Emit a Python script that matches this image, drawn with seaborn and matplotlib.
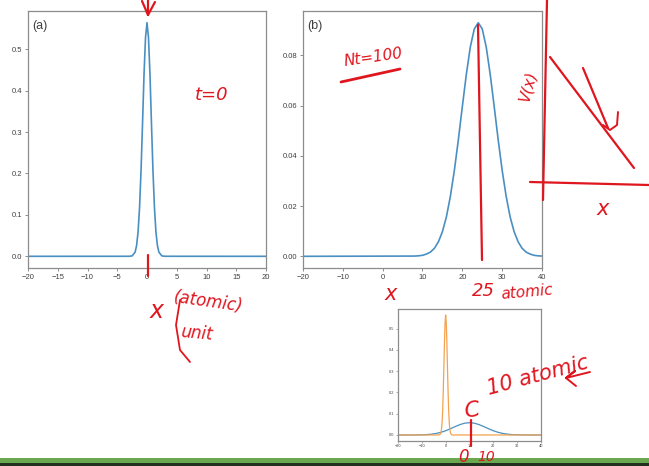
import pandas as pd
import seaborn as sns
import matplotlib.pyplot as plt
from matplotlib.lines import Line2D
from matplotlib.patches import Rectangle

# |psi(x)|^2 at t=0
x_t0 = [-20, -3, -2.5, -2, -1.75, -1.5, -1.25, -1, -0.75, -0.5, -0.25, 0,
        0.25, 0.5, 0.75, 1, 1.25, 1.5, 1.75, 2, 2.5, 3, 20]
p_t0 = [0, 0.0001, 0.001, 0.010, 0.026, 0.059, 0.118, 0.208, 0.321, 0.439, 0.528, 0.564,
        0.528, 0.439, 0.321, 0.208, 0.118, 0.059, 0.026, 0.010, 0.001, 0.0001, 0]
# same packet in the small panel, whose axis runs to 40
x_t0_wide = [-20, -3, -2.5, -2, -1.75, -1.5, -1.25, -1, -0.75, -0.5, -0.25, 0,
             0.25, 0.5, 0.75, 1, 1.25, 1.5, 1.75, 2, 2.5, 3, 40]

# after Nt=100 steps, panel (b)
x_nt100 = [-20, 8, 9, 10, 11, 12, 13, 14, 15, 16, 17, 18, 19, 20, 21, 22, 23, 24,
           25, 26, 27, 28, 29, 30, 31, 32, 33, 34, 35, 36, 37, 38, 39, 40]
p_nt100 = [0, 0.0001, 0.0002, 0.0004, 0.0009, 0.0017, 0.0032, 0.0058, 0.0098, 0.0157,
           0.0239, 0.0342, 0.0464, 0.0596, 0.0724, 0.0833, 0.0905, 0.0930,
           0.0905, 0.0833, 0.0724, 0.0596, 0.0464, 0.0342, 0.0239, 0.0157, 0.0098,
           0.0058, 0.0032, 0.0017, 0.0009, 0.0004, 0.0002, 0.0001]

# spread packet in the small inset (blue)
x_small = [-20, -18, -16, -14, -12, -10, -8, -6, -4, -2, 0, 2, 4, 6, 8, 10,
           12, 14, 16, 18, 20, 22, 24, 26, 28, 30, 32, 34, 36, 38, 40]
p_small = [0, 0, 0, 0.0001, 0.0003, 0.0008, 0.0018, 0.0038, 0.0072, 0.0126, 0.0201,
           0.0294, 0.0395, 0.0489, 0.0556, 0.0580, 0.0556, 0.0489, 0.0395, 0.0294,
           0.0201, 0.0126, 0.0072, 0.0038, 0.0018, 0.0008, 0.0003, 0.0001, 0, 0, 0]

a_xticks = [-20, -15, -10, -5, 0, 5, 10, 15, 20]
a_yticks = [0.0, 0.1, 0.2, 0.3, 0.4, 0.5]
b_xticks = [-20, -10, 0, 10, 20, 30, 40]
b_yticks = [0.00, 0.02, 0.04, 0.06, 0.08]
c_xticks = [-20, -10, 0, 10, 20, 30, 40]
c_yticks = [0.0, 0.1, 0.2, 0.3, 0.4, 0.5]

BLUE = '#4a8fc2'
ORANGE = '#f4a24e'
INK = '#e0161f'
W, H = 649, 466

sns.set_style("ticks")
plt.rcParams['font.family'] = ['Liberation Sans', 'DejaVu Sans']
plt.rcParams['axes.edgecolor'] = '#8c8c8c'
plt.rcParams['axes.linewidth'] = 0.9
plt.rcParams['xtick.color'] = '#8c8c8c'
plt.rcParams['ytick.color'] = '#8c8c8c'
plt.rcParams['xtick.labelcolor'] = '#404040'
plt.rcParams['ytick.labelcolor'] = '#404040'


def box(l, t, r, b):
    # pixel box -> figure fraction rect
    return [l / W, 1 - b / H, (r - l) / W, (b - t) / H]


def fx(px):
    return px / W


def fy(py):
    return 1 - py / H


def ink_line(fig, xs, ys, lw=1.6):
    fig.add_artist(Line2D([fx(v) for v in xs], [fy(v) for v in ys],
                          color=INK, lw=lw, solid_capstyle='round'))


def ink_text(fig, px, py, s, size=13, rot=0):
    fig.text(fx(px), fy(py), s, color=INK, fontsize=size, rotation=rot,
             family='DejaVu Sans', style='italic', ha='left', va='baseline')


def style_ticks(ax, size):
    ax.tick_params(labelsize=size, length=2.5, width=0.7, pad=1.5)


def main():
    fig = plt.figure(figsize=(6.49, 4.66), dpi=100)

    ax_a = fig.add_axes(box(28, 11, 266, 268))
    ax_b = fig.add_axes(box(303, 11, 542, 268))
    ax_c = fig.add_axes(box(398, 309, 541, 441))

    df_a = pd.DataFrame({'x': x_t0, 'p': p_t0})
    sns.lineplot(data=df_a, x='x', y='p', ax=ax_a, color=BLUE, lw=1.2)
    ax_a.set_xlim(-20, 20)
    ax_a.set_xticks(a_xticks)
    ax_a.set_yticks(a_yticks)
    ax_a.text(0.018, 0.965, '(a)', transform=ax_a.transAxes, va='top',
              fontsize=9, color='#404040')

    df_b = pd.DataFrame({'x': x_nt100, 'p': p_nt100})
    sns.lineplot(data=df_b, x='x', y='p', ax=ax_b, color=BLUE, lw=1.2)
    ax_b.set_xlim(-20, 40)
    ax_b.set_xticks(b_xticks)
    ax_b.set_yticks(b_yticks)
    ax_b.text(0.018, 0.965, '(b)', transform=ax_b.transAxes, va='top',
              fontsize=9, color='#404040')

    df_c1 = pd.DataFrame({'x': x_small, 'p': p_small})
    df_c0 = pd.DataFrame({'x': x_t0_wide, 'p': p_t0})
    sns.lineplot(data=df_c1, x='x', y='p', ax=ax_c, color=BLUE, lw=0.9)
    sns.lineplot(data=df_c0, x='x', y='p', ax=ax_c, color=ORANGE, lw=0.9)
    ax_c.set_xlim(-20, 40)
    ax_c.set_xticks(c_xticks)
    ax_c.set_yticks(c_yticks)

    for ax in (ax_a, ax_b):
        ax.set_xlabel('')
        ax.set_ylabel('')
        style_ticks(ax, 5.5)
    ax_c.set_xlabel('')
    ax_c.set_ylabel('')
    ax_c.tick_params(labelsize=2.8, length=1.5, width=0.5, pad=1)

    # handwritten notes from the lecture
    ink_line(fig, [142, 148, 155], [1, 15, 2])
    ink_line(fig, [148, 148], [0, 15])
    ink_line(fig, [148, 148], [255, 276])
    ink_text(fig, 195, 100, 't=0', 13)
    ink_text(fig, 150, 318, 'x', 17)
    ink_text(fig, 172, 312, '(atomic)', 12, -8)
    ink_text(fig, 180, 340, 'unit', 12, -5)
    ink_line(fig, [180, 176, 180, 190], [300, 325, 350, 362], 1.3)

    ink_text(fig, 343, 66, 'Nt=100', 11, 8)
    ink_line(fig, [341, 400], [82, 69], 2)
    ink_line(fig, [478, 482], [25, 260])
    ink_text(fig, 385, 300, 'x', 15)
    ink_text(fig, 472, 296, '25', 13)
    ink_text(fig, 500, 299, 'atomic', 11, 5)

    ink_line(fig, [547, 543], [0, 200])
    ink_line(fig, [530, 649], [182, 185])
    ink_line(fig, [550, 634], [57, 168])
    ink_line(fig, [583, 608], [68, 128])
    ink_line(fig, [603, 610, 617, 618], [125, 130, 125, 112], 1.4)
    ink_text(fig, 517, 100, 'V(x)', 11, 75)
    ink_text(fig, 597, 215, 'x', 15)

    ink_text(fig, 485, 395, '10 atomic', 15, 15)
    ink_text(fig, 462, 418, 'C', 16, 10)
    ink_line(fig, [566, 590], [378, 372], 1.4)
    ink_line(fig, [566, 575, 566, 576], [378, 371, 378, 386], 1.4)
    ink_line(fig, [471, 471], [420, 446])
    ink_text(fig, 458, 462, '0', 12)
    ink_text(fig, 477, 461, '10', 10)

    # strip at the bottom of the screen capture
    fig.add_artist(Rectangle((0, 1 - 463 / H), 1, 5 / H, transform=fig.transFigure,
                             color='#6aa84f', lw=0))
    fig.add_artist(Rectangle((0, 0), 1, 3 / H, transform=fig.transFigure,
                             color='#22301f', lw=0))

    plt.savefig('out.png', dpi=100)


if __name__ == '__main__':
    main()
